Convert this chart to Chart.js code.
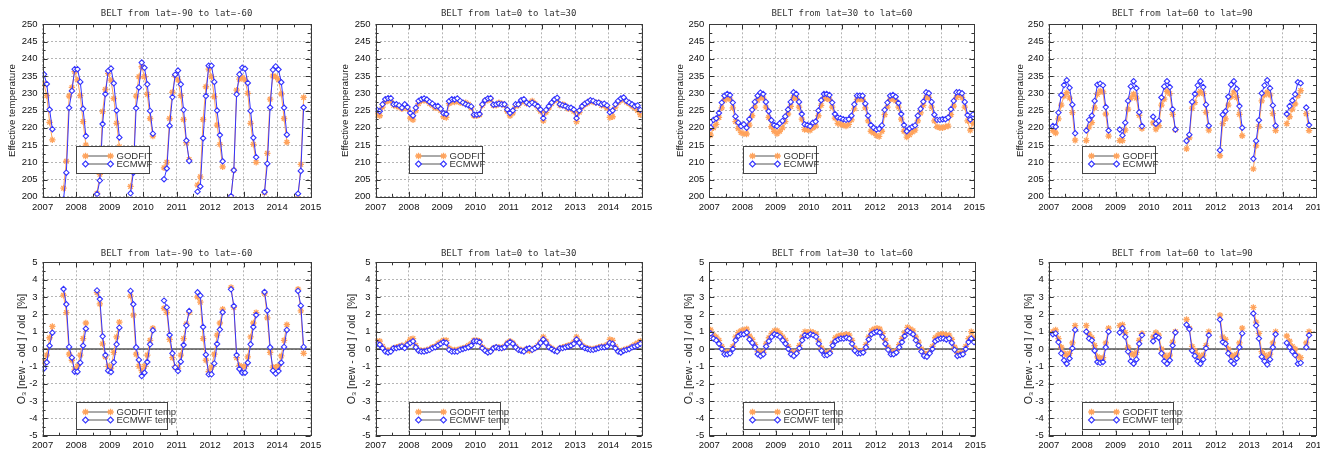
<!DOCTYPE html>
<html><head><meta charset="utf-8">
<script src="https://cdn.jsdelivr.net/npm/chart.js@4/dist/chart.umd.min.js"></script>
<style>
html,body{margin:0;padding:0;background:#fff;width:1320px;height:449px;overflow:hidden;position:relative}
canvas{position:absolute}
</style></head><body>
<script>
const n = null;
// tick labels / categories
const YEARS = [2007, 2008, 2009, 2010, 2011, 2012, 2013, 2014, 2015];
const START_YEAR = 2007; // monthly series Jan 2007 .. Dec 2014
const TITLES = ['BELT from lat=-90 to lat=-60', 'BELT from lat=0 to lat=30', 'BELT from lat=30 to lat=60', 'BELT from lat=60 to lat=90'];
const TEMP_TICKS = [200, 205, 210, 215, 220, 225, 230, 235, 240, 245, 250];
const DIFF_TICKS = [-5, -4, -3, -2, -1, 0, 1, 2, 3, 4, 5];
const LEG_TOP = ['GODFIT', 'ECMWF'];
const LEG_BOT = ['GODFIT temp', 'ECMWF temp'];

// ---- Effective temperature, lat -90..-60
const spT_godfit = [
 232.7,229.3,221.6,216.5,n,n,n,202.5,210.3,229.2,231.7,236.3,
 233.9,229.3,221.8,215.0,n,n,n,201.0,206.5,224.7,231.1,235.8,
 233.8,228.5,221.3,214.5,n,n,n,203.0,208.0,229.2,234.8,237.7,
 234.8,229.7,222.7,217.6,n,n,n,208.4,210.0,222.7,230.3,235.2,
 233.9,229.3,222.4,215.7,210.8,n,n,203.4,205.8,222.4,231.9,237.0,
 234.8,229.0,220.8,215.2,208.7,n,n,200.0,207.7,230.9,234.1,234.6,
 233.9,230.0,221.3,215.2,210.0,n,n,201.2,212.6,228.3,235.0,234.8,
 233.9,229.8,222.7,215.8,n,n,n,199.5,209.4,228.8,n,n];
const spT_ecmwf = [
 235.5,232.7,225.3,219.6,n,n,n,199.3,207.0,225.8,230.7,237.0,
 237.0,233.3,225.5,217.6,n,n,n,200.8,204.7,221.1,229.8,236.5,
 237.2,232.9,225.0,217.2,n,n,n,201.0,207.0,225.7,231.7,238.9,
 237.4,232.6,224.9,218.3,n,n,n,205.1,208.2,220.6,228.9,235.4,
 236.6,232.6,225.2,216.3,210.4,n,n,201.5,203.0,217.0,229.2,238.0,
 238.0,233.3,225.0,217.9,210.3,n,n,200.2,207.7,229.7,235.5,237.4,
 237.1,233.0,224.9,217.1,211.5,n,n,201.4,209.6,225.9,236.8,237.8,
 236.9,233.2,225.8,218.0,n,n,n,200.9,207.5,225.9,n,n];
// ---- lat 0..30
const eqT_godfit = [
 224.0,223.5,226.0,227.5,227.8,227.8,226.5,226.3,226.0,225.5,226.3,225.5,
 222.8,222.3,225.0,227.0,227.8,228.0,227.8,227.0,226.5,225.8,225.8,225.0,
 223.2,223.0,227.0,227.5,227.5,227.8,227.3,227.2,227.3,226.8,225.8,223.5,
 223.5,223.8,226.5,227.8,228.0,228.3,226.5,226.5,227.3,227.0,226.5,224.8,
 223.5,224.3,226.3,226.5,227.5,227.8,227.0,227.2,227.8,227.0,226.0,224.8,
 222.0,224.5,225.8,227.0,227.8,228.3,226.5,226.8,226.3,225.5,225.5,224.8,
 221.8,224.5,226.0,226.8,227.2,227.8,227.5,227.3,227.3,226.5,226.5,225.8,
 223.0,223.2,226.0,227.3,228.0,228.5,227.5,227.0,226.3,225.8,225.0,223.8];
const eqT_ecmwf = [
 225.2,224.8,226.8,228.3,228.6,228.6,226.8,226.8,226.5,225.8,226.8,226.0,
 224.3,223.5,225.8,227.8,228.3,228.5,228.2,227.5,227.0,226.3,226.3,225.5,
 224.2,224.0,227.7,228.3,228.2,228.5,227.8,227.3,226.8,226.5,226.2,223.8,
 223.8,224.0,226.8,228.0,228.5,228.6,226.7,226.8,227.0,226.8,226.8,225.3,
 224.3,225.0,226.8,226.8,228.0,228.3,227.3,226.8,227.3,226.8,226.3,225.3,
 222.8,225.2,226.3,227.3,228.2,228.7,226.8,226.5,226.3,225.8,225.8,225.3,
 222.8,225.0,226.3,227.0,227.5,228.0,227.8,227.3,227.3,226.8,227.0,226.5,
 224.5,225.0,226.8,227.8,228.5,228.8,227.8,227.3,226.8,226.3,226.5,225.2];
// ---- lat 30..60
const mlT_godfit = [
 217.9,220.0,221.0,223.0,225.8,228.0,228.6,228.3,225.8,221.8,219.8,218.6,
 218.3,218.2,220.8,223.5,226.0,228.0,229.0,228.6,226.0,223.0,220.3,219.0,
 218.3,219.0,220.0,221.8,224.0,226.2,228.8,228.5,226.0,222.5,219.5,219.5,
 219.3,220.0,220.5,223.5,226.5,228.5,228.5,228.2,226.0,222.8,221.3,221.0,
 220.8,220.5,221.0,222.3,225.5,228.2,228.3,228.2,225.8,222.0,219.0,218.5,
 217.8,217.5,219.0,223.8,226.0,228.2,228.5,227.8,226.0,222.5,219.0,217.3,
 218.0,218.8,219.3,222.0,224.3,226.5,228.8,228.8,226.0,222.0,220.3,220.0,
 220.0,220.3,220.5,223.8,226.3,228.8,229.5,228.8,226.0,222.0,219.3,221.3];
const mlT_ecmwf = [
 220.1,222.3,222.7,224.3,227.3,229.3,229.8,229.5,227.3,223.3,221.5,220.5,
 221.0,220.0,222.5,225.2,227.5,229.3,230.2,229.8,227.5,224.8,222.2,220.8,
 220.5,221.3,222.0,223.3,225.3,227.5,230.3,229.8,227.5,224.0,221.0,220.8,
 220.5,221.5,221.8,225.0,228.0,229.8,229.8,229.5,227.3,224.0,223.0,222.8,
 222.5,222.3,222.5,223.5,226.8,229.3,229.3,229.3,227.0,223.5,220.8,220.0,
 219.5,219.7,220.7,225.2,227.3,229.3,229.5,229.0,227.2,224.0,220.8,219.0,
 219.8,220.3,220.7,223.5,225.5,227.6,230.3,230.0,227.5,223.8,222.3,222.3,
 222.5,222.5,223.0,225.4,227.8,230.3,230.3,230.0,227.5,223.7,222.4,223.9];
// ---- lat 60..90
const npT_godfit = [
 n,219.2,218.5,222.6,226.6,229.2,230.2,228.6,224.4,216.4,n,n,
 n,216.3,220.2,221.5,225.8,229.7,230.7,230.4,224.0,217.6,n,n,
 n,216.3,216.3,219.3,225.4,228.6,229.8,228.6,223.6,219.8,n,n,
 n,221.4,219.6,220.6,226.6,228.3,230.6,229.9,223.9,219.4,n,n,
 n,213.9,217.1,225.7,227.3,229.8,230.5,229.9,224.5,219.3,n,n,
 n,211.9,221.2,222.6,226.6,229.0,230.4,228.8,223.9,217.7,n,n,
 n,208.1,214.8,220.4,227.8,229.5,230.3,229.5,224.1,219.2,n,n,
 n,221.2,223.2,225.4,226.9,229.3,230.8,n,224.1,219.2,n,n];
const npT_ecmwf = [
 n,220.5,220.3,224.4,229.5,232.4,233.8,231.6,226.7,218.4,n,n,
 n,219.2,222.3,223.5,227.8,232.5,232.8,232.3,226.0,219.2,n,n,
 n,219.5,217.8,221.5,227.8,232.0,233.5,231.5,224.5,220.5,n,n,
 n,223.2,221.2,222.0,228.8,232.0,233.5,231.8,225.4,219.5,n,n,
 n,216.2,218.0,227.5,229.8,232.3,233.5,231.8,226.7,220.6,n,n,
 n,213.5,223.8,224.8,229.0,232.5,233.5,231.3,226.3,220.0,n,n,
 n,211.0,216.2,222.2,230.0,232.3,233.8,231.5,226.5,220.6,n,n,
 n,224.0,226.3,227.9,229.7,233.2,232.9,n,225.9,220.8,n,n];

// ---- O3 relative difference [%]
const spD_godfit = [
 -0.75,-0.35,0.65,1.30,n,n,n,3.10,2.10,-0.30,-0.65,-1.20,
 -1.00,-0.35,0.60,1.50,n,n,n,3.25,2.60,0.30,-0.45,-1.00,
 -1.10,-0.20,0.70,1.55,n,n,n,3.05,1.95,-0.30,-1.00,-1.25,
 -1.00,-0.35,0.50,1.20,n,n,n,2.35,2.10,0.55,-0.50,-1.05,
 -1.10,-0.35,0.60,1.45,2.10,n,n,3.00,2.70,0.60,-0.65,-1.30,
 -1.05,-0.30,0.80,1.50,2.30,n,n,3.55,2.40,-0.50,-0.95,-1.05,
 -1.00,-0.45,0.70,1.50,2.10,n,n,3.20,1.80,-0.20,-1.05,-1.05,
 -1.00,-0.40,0.50,1.40,n,n,n,3.45,2.20,-0.25,n,n];
const spD_ecmwf = [
 -1.12,-0.77,0.19,0.94,n,n,n,3.46,2.58,0.12,-0.50,-1.31,
 -1.31,-0.79,0.19,1.17,n,n,n,3.38,2.88,0.73,-0.35,-1.25,
 -1.33,-0.77,0.27,1.23,n,n,n,3.35,2.58,0.10,-0.63,-1.56,
 -1.37,-0.75,0.27,1.08,n,n,n,2.79,2.40,0.81,-0.25,-1.06,
 -1.27,-0.73,0.23,1.35,2.19,n,n,3.27,3.08,1.27,-0.33,-1.46,
 -1.46,-0.83,0.29,1.12,2.12,n,n,3.44,2.48,-0.35,-1.15,-1.37,
 -1.37,-0.79,0.27,1.27,1.96,n,n,3.29,2.21,0.10,-1.25,-1.42,
 -1.27,-0.79,0.12,1.10,n,n,n,3.35,2.50,0.12,n,n];
const eqD_godfit = [
 0.45,0.45,0.15,-0.05,-0.10,-0.05,0.05,0.10,0.15,0.20,0.10,0.35,
 0.55,0.60,0.20,-0.05,-0.10,-0.10,-0.05,0.00,0.10,0.15,0.30,0.40,
 0.50,0.50,0.05,-0.05,-0.05,-0.05,0.00,0.05,0.10,0.20,0.30,0.50,
 0.50,0.45,0.10,-0.05,-0.15,-0.10,0.05,0.10,0.10,0.05,0.15,0.35,
 0.45,0.35,0.15,0.00,-0.05,-0.10,0.00,-0.10,0.00,0.05,0.20,0.40,
 0.70,0.45,0.15,0.05,-0.05,-0.10,0.05,0.10,0.15,0.20,0.25,0.40,
 0.70,0.45,0.20,0.10,0.05,0.00,0.00,0.05,0.10,0.15,0.15,0.25,
 0.55,0.50,0.15,-0.10,-0.15,-0.05,0.00,0.05,0.15,0.25,0.35,0.45];
const eqD_ecmwf = [
 0.30,0.25,0.05,-0.15,-0.20,-0.15,0.05,0.05,0.10,0.15,0.05,0.25,
 0.35,0.45,0.10,-0.10,-0.15,-0.15,-0.10,-0.05,0.05,0.10,0.20,0.30,
 0.40,0.35,-0.05,-0.15,-0.15,-0.15,-0.05,0.00,0.05,0.10,0.20,0.45,
 0.45,0.40,0.05,-0.10,-0.20,-0.15,0.05,0.10,0.05,0.05,0.10,0.30,
 0.40,0.30,0.10,-0.05,-0.10,-0.15,0.00,0.05,-0.05,0.05,0.15,0.35,
 0.55,0.35,0.10,0.00,-0.10,-0.15,0.05,0.05,0.10,0.15,0.20,0.30,
 0.55,0.35,0.15,0.05,0.00,-0.05,-0.05,0.00,0.05,0.10,0.10,0.15,
 0.35,0.30,0.05,-0.15,-0.20,-0.10,-0.05,0.00,0.10,0.15,0.20,0.30];
const mlD_godfit = [
 1.10,0.80,0.70,0.50,0.15,-0.15,-0.20,-0.15,0.15,0.70,0.95,1.05,
 1.10,1.15,0.75,0.55,0.25,-0.15,-0.25,-0.20,0.30,0.65,0.90,1.05,
 1.05,0.90,0.70,0.50,0.15,-0.15,-0.25,-0.15,0.20,0.70,1.00,0.95,
 1.00,0.95,0.85,0.45,0.05,-0.20,-0.25,-0.15,0.35,0.65,0.75,0.80,
 0.80,0.85,0.80,0.50,0.05,-0.15,-0.15,-0.10,0.25,0.70,1.05,1.15,
 1.20,1.15,0.90,0.50,0.10,-0.15,-0.20,-0.10,0.25,0.60,0.95,1.25,
 1.15,1.05,0.70,0.40,0.00,-0.25,-0.30,-0.15,0.15,0.65,0.80,0.85,
 0.85,0.80,0.80,0.55,0.10,-0.25,-0.25,-0.20,0.15,0.60,1.00,0.65];
const mlD_ecmwf = [
 0.90,0.60,0.50,0.30,0.00,-0.30,-0.30,-0.25,0.00,0.50,0.75,0.85,
 0.85,0.95,0.55,0.35,0.10,-0.30,-0.40,-0.30,0.15,0.45,0.70,0.85,
 0.80,0.70,0.50,0.30,0.00,-0.30,-0.40,-0.25,0.05,0.50,0.80,0.75,
 0.85,0.80,0.70,0.30,-0.10,-0.35,-0.35,-0.25,0.20,0.45,0.55,0.60,
 0.60,0.65,0.60,0.30,-0.10,-0.25,-0.25,-0.20,0.10,0.55,0.85,0.95,
 1.00,0.95,0.70,0.30,-0.05,-0.30,-0.30,-0.20,0.10,0.40,0.75,1.05,
 0.95,0.85,0.50,0.20,-0.15,-0.40,-0.45,-0.25,0.00,0.45,0.55,0.60,
 0.60,0.55,0.60,0.35,-0.05,-0.40,-0.35,-0.30,0.00,0.40,0.60,0.40];
const npD_godfit = [
 n,1.00,1.10,0.60,0.10,-0.25,-0.35,-0.25,0.35,1.35,n,n,
 n,1.35,0.85,0.65,0.20,-0.45,-0.55,-0.50,0.35,1.20,n,n,
 n,1.35,1.40,0.95,0.10,-0.25,-0.35,-0.20,0.50,0.90,n,n,
 n,0.70,0.95,0.80,0.00,-0.35,-0.50,-0.35,0.40,1.00,n,n,
 n,1.70,1.20,0.15,-0.10,-0.35,-0.50,-0.35,0.20,1.00,n,n,
 n,1.95,0.70,0.55,0.00,-0.35,-0.45,-0.30,0.35,1.20,n,n,
 n,2.40,1.55,0.90,-0.15,-0.35,-0.50,-0.30,0.35,1.00,n,n,
 n,0.75,0.45,0.15,0.00,-0.40,-0.50,n,0.35,1.00,n,n];
const npD_ecmwf = [
 n,0.85,0.90,0.40,-0.25,-0.65,-0.85,-0.55,0.05,1.10,n,n,
 n,1.00,0.60,0.50,-0.10,-0.75,-0.80,-0.75,0.10,1.00,n,n,
 n,0.95,1.20,0.70,-0.15,-0.70,-0.85,-0.60,0.30,0.80,n,n,
 n,0.45,0.75,0.65,-0.25,-0.70,-0.85,-0.65,0.20,0.95,n,n,
 n,1.40,1.15,-0.10,-0.40,-0.70,-0.85,-0.60,0.05,0.80,n,n,
 n,1.70,0.40,0.30,-0.25,-0.70,-0.85,-0.55,0.10,0.90,n,n,
 n,2.05,1.35,0.60,-0.45,-0.70,-0.90,-0.60,0.10,0.85,n,n,
 n,0.35,0.10,-0.15,-0.35,-0.85,-0.80,n,0.10,0.80,n,n];

// ---------------- layout (positions only, no data)
const ORANGE = '#FFA35C', BLUE = '#3434FF';
const FONT = '"Liberation Sans", Arial, sans-serif';
const COLS = [
  {L: 0,   W: 330, pl: 42.6,   pr: 310.6},
  {L: 330, W: 330, pl: 375.6,  pr: 641.7},
  {L: 660, W: 330, pl: 709.3,  pr: 976.0},
  {L: 990, W: 360, pl: 1048.7, pr: 1316.0}
];
const ROWS = [
  {T: 0,   H: 225, pt: 24.3,  pb: 196.8, ytX: [12.3, 15.0, 20.7, 30.0], padX: 5, legTopOff: -50.5, legW: 72.5, legend: LEG_TOP, titleY: 14, ytSize: 9.8},
  {T: 225, H: 224, pt: 262.3, pb: 435.7, ytX: [21.7, 21.7, 29.0, 39.0], padX: 4, legTopOff: -34, legW: 90.7, legend: LEG_BOT, titleY: 253.3, ytSize: 10.5}
];
const PANELS = [
  {r: 0, c: 0, g: spT_godfit, e: spT_ecmwf}, {r: 0, c: 1, g: eqT_godfit, e: eqT_ecmwf},
  {r: 0, c: 2, g: mlT_godfit, e: mlT_ecmwf}, {r: 0, c: 3, g: npT_godfit, e: npT_ecmwf},
  {r: 1, c: 0, g: spD_godfit, e: spD_ecmwf}, {r: 1, c: 1, g: eqD_godfit, e: eqD_ecmwf},
  {r: 1, c: 2, g: mlD_godfit, e: mlD_ecmwf}, {r: 1, c: 3, g: npD_godfit, e: npD_ecmwf}
];

function toPoints(arr) { return arr.map((v, i) => ({x: START_YEAR + (i + 0.5) / 12, y: v})); }

function drawStar(ctx, x, y, r) {
  ctx.beginPath();
  for (let k = 0; k < 4; k++) {
    const a = k * Math.PI / 4;
    ctx.moveTo(x - r * Math.cos(a), y - r * Math.sin(a));
    ctx.lineTo(x + r * Math.cos(a), y + r * Math.sin(a));
  }
  ctx.stroke();
}
function drawDiamond(ctx, x, y, r) {
  ctx.beginPath();
  ctx.moveTo(x, y - r); ctx.lineTo(x + r, y); ctx.lineTo(x, y + r); ctx.lineTo(x - r, y); ctx.closePath();
  ctx.fillStyle = '#fff'; ctx.fill(); ctx.stroke();
}

const framePlugin = {
  id: 'frame',
  beforeDatasetsDraw(chart, args, opts) {
    if (!opts.zero) return;
    const {ctx, chartArea: a, scales: {y}} = chart;
    const yy = y.getPixelForValue(0);
    ctx.save(); ctx.strokeStyle = '#555'; ctx.lineWidth = 1.6;
    ctx.beginPath(); ctx.moveTo(a.left, yy); ctx.lineTo(a.right, yy); ctx.stroke(); ctx.restore();
  },
  afterDraw(chart, args, opts) {
    const {ctx, chartArea: a, scales: {x, y}} = chart;
    ctx.save();
    ctx.strokeStyle = '#333'; ctx.lineWidth = 1;
    ctx.beginPath();
    for (let v = YEARS[0]; v <= YEARS[YEARS.length - 1] + 1e-6; v += 0.5) {
      const px = Math.round(x.getPixelForValue(v)) + 0.5;
      const len = Math.abs(v - Math.round(v)) < 1e-6 ? 5 : 3;
      ctx.moveTo(px, a.bottom); ctx.lineTo(px, a.bottom - len);
      ctx.moveTo(px, a.top); ctx.lineTo(px, a.top + len);
    }
    const yt = opts.yticks, step = yt[1] - yt[0];
    for (let v = yt[0]; v <= yt[yt.length - 1] + 1e-6; v += step / 2) {
      const py = Math.round(y.getPixelForValue(v)) + 0.5;
      const major = Math.abs((v - yt[0]) / step - Math.round((v - yt[0]) / step)) < 1e-6;
      const len = major ? 5 : 3;
      ctx.moveTo(a.left, py); ctx.lineTo(a.left + len, py);
      ctx.moveTo(a.right, py); ctx.lineTo(a.right - len, py);
    }
    ctx.stroke();
    ctx.strokeStyle = '#3a3a3a'; ctx.lineWidth = 1;
    ctx.strokeRect(Math.round(a.left) + 0.5, Math.round(a.top) + 0.5, Math.round(a.right - a.left), Math.round(a.bottom - a.top));
    // title
    ctx.fillStyle = '#333'; ctx.font = '9px "DejaVu Sans Mono", monospace';
    ctx.textAlign = 'center'; ctx.textBaseline = 'middle';
    ctx.fillText(opts.title, (a.left + a.right) / 2, opts.titleY);
    // legend box
    const bx = Math.round(a.left + 33.5) + 0.5, by = Math.round(a.bottom + opts.legTopOff) + 0.5;
    const bw = Math.round(opts.legW), bh = 27;
    ctx.fillStyle = '#fff'; ctx.fillRect(bx, by, bw, bh);
    ctx.strokeStyle = '#444'; ctx.lineWidth = 1; ctx.strokeRect(bx, by, bw, bh);
    const rows = [by + 9.5, by + 17.5];
    const x1 = bx + 9, x2 = bx + 34;
    ctx.strokeStyle = '#555'; ctx.lineWidth = 1;
    rows.forEach(ry => { ctx.beginPath(); ctx.moveTo(x1, ry); ctx.lineTo(x2, ry); ctx.stroke(); });
    ctx.strokeStyle = ORANGE; ctx.lineWidth = 1.3;
    drawStar(ctx, x1, rows[0], 3.3); drawStar(ctx, x2, rows[0], 3.3);
    ctx.strokeStyle = BLUE; ctx.lineWidth = 1.1;
    drawDiamond(ctx, x1, rows[1], 3); drawDiamond(ctx, x2, rows[1], 3);
    ctx.fillStyle = '#333'; ctx.font = '9.5px ' + FONT;
    ctx.textAlign = 'left'; ctx.textBaseline = 'middle';
    ctx.fillText(opts.legend[0], bx + 40, rows[0] + 0.5);
    ctx.fillText(opts.legend[1], bx + 40, rows[1] + 0.5);
    ctx.restore();
  }
};

PANELS.forEach((p) => {
  const col = COLS[p.c], row = ROWS[p.r];
  const cv = document.createElement('canvas');
  cv.width = col.W; cv.height = row.H;
  cv.style.left = col.L + 'px'; cv.style.top = row.T + 'px';
  cv.style.width = col.W + 'px'; cv.style.height = row.H + 'px';
  document.body.appendChild(cv);
  const yTicks = p.r === 0 ? TEMP_TICKS : DIFF_TICKS;
  const yW = col.pl - col.L, xH = row.T + row.H - row.pb;
  new Chart(cv, {
    type: 'line',
    data: {
      datasets: [
        {label: row.legend[1], data: toPoints(p.e), order: 0, borderColor: BLUE, borderWidth: 1,
         pointStyle: 'rectRot', pointRadius: 2.7, pointBorderWidth: 1.1, pointBorderColor: BLUE,
         pointBackgroundColor: '#fff', spanGaps: false, tension: 0},
        {label: row.legend[0], data: toPoints(p.g), order: 1, borderColor: ORANGE, borderWidth: 1,
         pointStyle: 'star', pointRadius: 3.2, pointBorderWidth: 1.3, pointBorderColor: ORANGE,
         pointBackgroundColor: ORANGE, spanGaps: false, tension: 0}
      ]
    },
    options: {
      responsive: false, animation: false, devicePixelRatio: 1,
      events: [],
      layout: {padding: {left: 0, top: row.pt - row.T, right: col.L + col.W - col.pr, bottom: 0}},
      plugins: {
        legend: {display: false}, tooltip: {enabled: false}, title: {display: false},
        frame: {zero: p.r === 1, yticks: yTicks, title: TITLES[p.c], titleY: row.titleY - row.T,
                legTopOff: row.legTopOff, legW: row.legW, legend: row.legend}
      },
      scales: {
        x: {
          type: 'linear', min: YEARS[0], max: YEARS[YEARS.length - 1],
          afterBuildTicks: s => { s.ticks = YEARS.map(v => ({value: v})); },
          ticks: {callback: v => String(v), color: '#111', padding: row.padX, maxRotation: 0, autoSkip: false,
                  font: {family: FONT, size: 9.5}},
          grid: {color: '#b5b5b5', lineWidth: 1, drawTicks: false, borderDash: [2, 2]},
          border: {display: false, dash: [2, 2]},
          afterFit: s => { s.height = xH; }
        },
        y: {
          type: 'linear', min: yTicks[0], max: yTicks[yTicks.length - 1],
          afterBuildTicks: s => { s.ticks = yTicks.map(v => ({value: v})); },
          ticks: {callback: v => String(v), color: '#111', padding: 5, autoSkip: false,
                  font: {family: FONT, size: 9.5}},
          grid: {color: '#b5b5b5', lineWidth: 1, drawTicks: false, borderDash: [2, 2]},
          border: {display: false, dash: [2, 2]},
          title: {display: true, text: p.r === 0 ? 'Effective temperature' : 'O\u2083 [new - old ] / old  [%]',
                  color: '#222', font: {family: FONT, size: row.ytSize},
                  padding: {top: row.ytX[p.c] - row.ytSize * 0.6, bottom: 0}},
          afterFit: s => { s.width = yW; }
        }
      }
    },
    plugins: [framePlugin]
  });
});
</script>
</body></html>
